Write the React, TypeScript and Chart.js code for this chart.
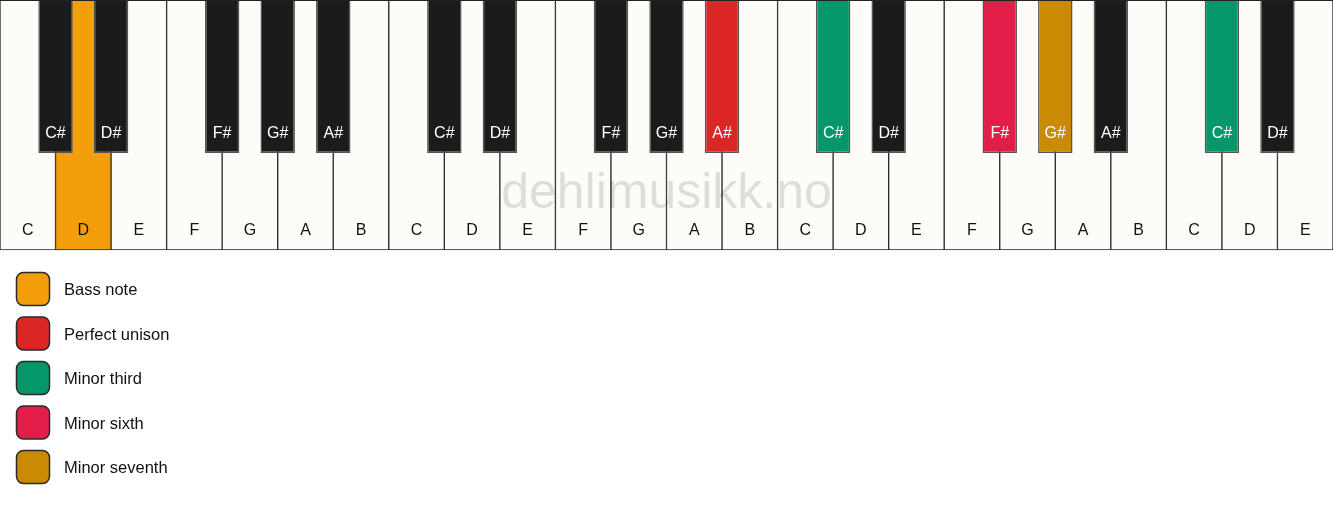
import { useEffect, useRef } from "react";
import { Chart, registerables } from "chart.js";

Chart.register(...registerables);

const whiteNotes = [
  "C", "D", "E", "F", "G", "A", "B",
  "C", "D", "E", "F", "G", "A", "B",
  "C", "D", "E", "F", "G", "A", "B",
  "C", "D", "E",
];
// white notes that have a sharp directly above them
const sharpable = ["C", "D", "F", "G", "A"];

const legendLabels = ["Bass note", "Perfect unison", "Minor third", "Minor sixth", "Minor seventh"];
const legendColors = ["#f59e0b", "#dc2626", "#059669", "#e11d48", "#ca8a04"];

// note + octave -> index into the legend
const markedKeys = ["D1", "A#2", "C#3", "F#3", "G#3", "C#4"];
const markedRoles = [0, 1, 2, 3, 4, 2];

const WHITE_FILL = "#fdfcf9";
const BLACK_FILL = "#1b1b1b";
const BLACK_LENGTH = 0.612;
const FONT = '"Liberation Sans", Arial, sans-serif';

function markColor(name: string, fallback: string) {
  const i = markedKeys.indexOf(name);
  return i < 0 ? fallback : legendColors[markedRoles[i]];
}

const whiteKeys = whiteNotes.map((note, i) => ({
  label: note,
  name: note + (Math.floor(i / 7) + 1),
  x: i + 0.5,
}));

const blackKeys = whiteNotes.flatMap((note, i) =>
  sharpable.includes(note) && i < whiteNotes.length - 1
    ? [{ label: note + "#", name: note + "#" + (Math.floor(i / 7) + 1), x: i + 1 }]
    : []
);

const keyLabels = {
  id: "keyLabels",
  afterDatasetsDraw(chart: Chart) {
    const ctx = chart.ctx;
    const a = chart.chartArea;
    ctx.save();
    // top edge of the keyboard
    ctx.fillStyle = "#222";
    ctx.fillRect(a.left, a.top, a.right - a.left, 1);

    ctx.font = `16px ${FONT}`;
    ctx.textAlign = "center";
    ctx.textBaseline = "middle";
    const white = chart.getDatasetMeta(0).data;
    white.forEach((el: any, i) => {
      ctx.fillStyle = "#111";
      ctx.fillText(whiteKeys[i].label, el.x, Math.max(el.y, el.base) - 19);
    });
    const black = chart.getDatasetMeta(1).data;
    black.forEach((el: any, i) => {
      ctx.fillStyle = "#fff";
      ctx.fillText(blackKeys[i].label, el.x, Math.max(el.y, el.base) - 19);
    });

    // watermark
    ctx.font = `50px ${FONT}`;
    ctx.fillStyle = "rgba(0,0,0,0.12)";
    ctx.fillText("dehlimusikk.no", (a.left + a.right) / 2, a.top + 194);
    ctx.restore();
  },
};

const sideLegend = {
  id: "sideLegend",
  afterDraw(chart: Chart) {
    const ctx = chart.ctx;
    const top = chart.chartArea.bottom + 22;
    ctx.save();
    ctx.font = `16.5px ${FONT}`;
    ctx.textBaseline = "middle";
    ctx.textAlign = "left";
    legendLabels.forEach((label, i) => {
      const y = top + i * 44.5;
      ctx.beginPath();
      ctx.roundRect(16.5, y + 0.5, 33, 33, 7);
      ctx.fillStyle = legendColors[i];
      ctx.fill();
      ctx.lineWidth = 1.5;
      ctx.strokeStyle = "#2a2a2a";
      ctx.stroke();
      ctx.fillStyle = "#111";
      ctx.fillText(label, 64, y + 18.5);
    });
    ctx.restore();
  },
};

export default function App() {
  const canvasRef = useRef<HTMLCanvasElement>(null);

  useEffect(() => {
    document.body.style.margin = "0";
    document.body.style.background = "#fff";
    if (!canvasRef.current) return;

    const chart = new Chart(canvasRef.current, {
      type: "bar",
      data: {
        datasets: [
          {
            data: whiteKeys.map((k) => ({ x: k.x, y: [0, 1] })) as any,
            backgroundColor: whiteKeys.map((k) => markColor(k.name, WHITE_FILL)),
            borderColor: "#2b2b2b",
            borderWidth: 1,
            borderSkipped: false,
            barPercentage: 1,
            categoryPercentage: 1,
            grouped: false,
            xAxisID: "x",
            order: 2,
            clip: false as any,
          },
          {
            data: blackKeys.map((k) => ({ x: k.x, y: [0, BLACK_LENGTH] })) as any,
            backgroundColor: blackKeys.map((k) => markColor(k.name, BLACK_FILL)),
            borderColor: "#555",
            borderWidth: 1.5,
            borderSkipped: "start",
            barPercentage: 0.62,
            categoryPercentage: 1,
            grouped: false,
            xAxisID: "x2",
            order: 1,
            clip: false as any,
          },
        ],
      },
      options: {
        animation: false,
        responsive: true,
        maintainAspectRatio: false,
        events: [],
        layout: { padding: { top: 0, left: 0, right: 0, bottom: 256 } },
        plugins: {
          legend: { display: false },
          tooltip: { enabled: false },
        },
        scales: {
          x: { type: "linear", min: 0, max: whiteNotes.length, offset: false, display: false },
          x2: { type: "linear", min: 0, max: whiteNotes.length, offset: false, display: false },
          y: { min: 0, max: 1, reverse: true, display: false },
        },
      },
      plugins: [keyLabels, sideLegend],
    });

    return () => {
      chart.destroy();
    };
  }, []);

  return (
    <div style={{ width: 1333, height: 506, position: "relative" }}>
      <canvas ref={canvasRef} />
    </div>
  );
}
